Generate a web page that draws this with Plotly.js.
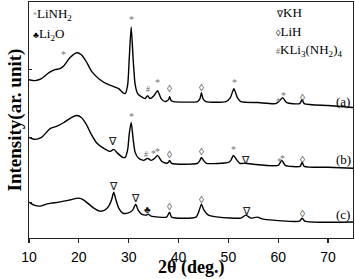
<!DOCTYPE html>
<html><head><meta charset="utf-8">
<script src="https://cdn.plot.ly/plotly-3.0.1.min.js"></script>
<style>html,body{margin:0;padding:0;background:#fff}#chart{width:355px;height:279px}</style>
</head><body><div id="chart"></div>
<script>
// 2theta (deg) and intensity (arbitrary, offset-stacked) for each pattern
const xA = [10,11.2,12.5,14,15.2,16.2,17,18.2,19.6,20.5,21.5,22.6,24,25.5,27,28,28.8,29.3,29.8,30.1,30.5,30.9,31.3,31.8,32.5,33.3,33.8,34.3,35.1,35.8,36.5,37.3,38.0,38.2,38.5,39,43.8,44.3,44.6,44.9,45.5,49.5,50.4,51.1,51.8,52.5,56,59.5,60.3,60.9,61.7,64.3,64.8,65.2,70,75];
const yA = [159,158,160,166,169,170,173,181,186,184,177,167,160,155,152,150,146,145,154,179,212,179,154,145,142,140,143,140,143,148,140,137,139,142,138,137,137,140,146,140,137,137,141,150,141,137,136,135,138,141,136,135,139,135,133,131];

const xB = [10,11.2,12.5,14.3,15.5,17,18.5,19.6,20.5,21.5,22.5,23.5,25,26.3,27.0,27.8,28.8,29.3,29.8,30.1,30.5,30.9,31.3,32,33,33.8,34.5,35.2,35.8,36.6,37.5,38.0,38.2,38.6,43.8,44.3,44.6,45,45.6,50,50.5,51,51.6,52.3,53.4,55,60,60.7,61.4,64.4,64.8,65.2,70,75];
const yB = [101,99,101,110,112,116,121,123,121,114,104,96,90,87,89,85,81,81,89,104,116,99,86,80,78,80,78,80,83,77,75,76,78,75,75,78,81,78,75,76,78,83,79,75,75,74,73,78,73,72,76,72,71,70];

const xC = [10,11,12.2,13.5,14.5,16,18,20,21,22,23,24.2,25.2,26,26.6,27.0,27.4,28,28.8,29.8,30.8,31.4,31.9,32.6,33.5,33.9,34.5,37.6,38.2,38.6,43.5,44.1,44.6,45.1,46,48,52.5,53.5,54.5,55.8,57,64.3,64.8,65.3,75];
const yC = [36,33,32,34,35,36,38,40,38,34,30,27,28,32,39,46,39,30,25,25,28,34,28,24,23,24,22,21,26,21,21,27,34,28,23,21,20,23,20,21,19,17,20,17,16];

// phase marks above peaks: [2theta, height, symbol]
const markA = [[17,184,'*'],[30.5,219,'*'],[33.8,149,'#'],[35.8,156,'*'],[38.2,150,'◊'],[44.6,151,'◊'],[51.2,156,'*'],[60.0,137,'*'],[61.0,143,'*'],[64.8,141,'◊']];
const markB = [[26.8,97,'∇'],[30.5,122,'*'],[33.5,84,'#'],[34.9,85,'*'],[35.7,87,'*'],[38.2,84,'◊'],[44.6,87,'◊'],[51.1,89,'*'],[53.4,78,'∇'],[60.3,77,'*'],[60.9,80,'*'],[64.8,79,'◊']];
const markC = [[27.0,52,'∇'],[31.4,40,'∇'],[33.8,29,'♣'],[38.2,32,'◊'],[44.6,39,'◊'],[53.6,27,'∇'],[64.8,25,'◊']];
const curveLabels = [['(a)',137],['(b)',79],['(c)',24]];
const xTicks = [10,20,30,40,50,60,70];
const yTicks = [36,101,169];

const serif = 'Liberation Serif, Times New Roman, serif';
const line = {color:'#000', width:1.4, shape:'spline', smoothing:0.6};
const traces = [[xA,yA],[xB,yB],[xC,yC]].map(([x,y]) => ({x, y, type:'scatter', mode:'lines', line, hoverinfo:'skip', showlegend:false}));

const symStyle = {
  '*': {color:'#777', size:10},
  '#': {color:'#666', size:8},
  '◊': {color:'#444', size:10},
  '∇': {color:'#222', size:11},
  '♣': {color:'#111', size:10}
};
const ann = [];
[markA, markB, markC].forEach(list => list.forEach(([x,y,s]) => {
  ann.push({x, y, xref:'x', yref:'y', text:s, showarrow:false, xanchor:'center', yanchor:'middle',
    font:{family:serif, size:symStyle[s].size, color:symStyle[s].color}});
}));
curveLabels.forEach(([t,y]) => ann.push({x:73, y, xref:'x', yref:'y', text:t, showarrow:false,
  xanchor:'center', yanchor:'middle', font:{family:serif, size:13, color:'#000'}}));

const legendLeft = ["<span style='color:#888;font-size:8px'>*</span>LiNH<sub>2</sub>",
                    "<span style='font-size:9px'>♣</span>Li<sub>2</sub>O"];
const legendRight = ["<span style='font-size:9px'>∇</span>KH",
                     "<span style='font-size:9px'>◊</span>LiH",
                     "<span style='color:#666;font-size:8px'>#</span>KLi<sub>3</sub>(NH<sub>2</sub>)<sub>4</sub>"];
legendLeft.forEach((t,i) => ann.push({xref:'paper', yref:'paper', x:0.005, y:(237-13-i*20)/237, text:t,
  showarrow:false, xanchor:'left', yanchor:'middle', font:{family:serif, size:13, color:'#000'}}));
legendRight.forEach((t,i) => ann.push({xref:'paper', yref:'paper', x:(274-29)/324, y:(237-11-i*19)/237, text:t,
  showarrow:false, xanchor:'left', yanchor:'middle', font:{family:serif, size:13, color:'#000'}}));
// x-axis title, placed just under the tick labels, resting on the bottom edge
ann.push({xref:'paper', yref:'paper', x:0.5, y:-(279-238)/236, text:'2θ (deg.)', showarrow:false,
  xanchor:'center', yanchor:'bottom', borderpad:0, font:{family:serif, size:18, color:'#000', weight:'bold'}});

const layout = {
  width:355, height:279,
  margin:{l:29, r:2, t:2, b:41},
  paper_bgcolor:'#fff', plot_bgcolor:'#fff',
  xaxis:{range:[10,75], tickvals:xTicks, ticktext:xTicks.map(String), ticks:'outside', ticklen:4, tickwidth:1.2, tickcolor:'#222',
    ticklabelstandoff:2,
    showline:true, linecolor:'#222', linewidth:1.2, mirror:true, showgrid:false, zeroline:false,
    tickfont:{family:'Liberation Sans, Arial, sans-serif', size:14, color:'#000'}},
  yaxis:{range:[0,237], tickvals:yTicks, showticklabels:false, ticks:'inside', ticklen:3, tickwidth:1, tickcolor:'#222',
    showline:true, linecolor:'#222', linewidth:1.2, mirror:true,
    showgrid:false, zeroline:false,
    title:{text:'Intensity(ar. unit)', font:{family:serif, size:19, color:'#000', weight:'bold'}, standoff:1}},
  annotations:ann
};
Plotly.newPlot('chart', traces, layout, {staticPlot:true, displayModeBar:false});
</script></body></html>
